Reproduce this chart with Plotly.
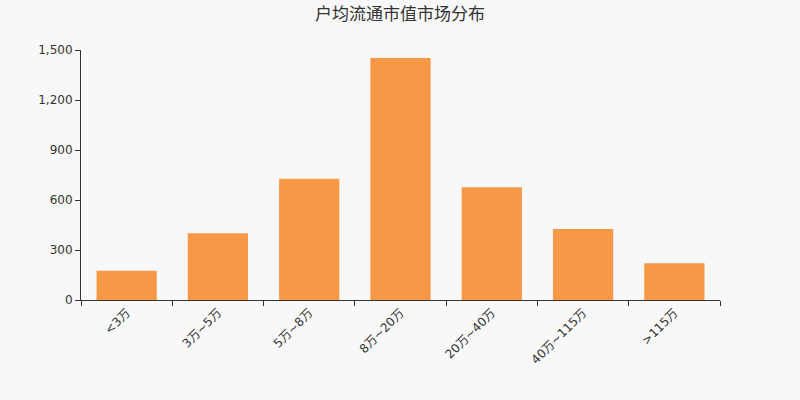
import plotly.graph_objects as go

categories = ['<3万', '3万~5万', '5万~8万', '8万~20万', '20万~40万', '40万~115万', '>115万']
values = [176, 400, 728, 1452, 676, 426, 220]
y_ticks = [0, 300, 600, 900, 1200, 1500]

fig = go.Figure()
fig.add_trace(go.Bar(x=categories, y=values, marker_color='#F79846', marker_line_width=0))

fig.update_layout(
    width=800, height=400,
    paper_bgcolor='#F8F8F8', plot_bgcolor='#F8F8F8',
    margin=dict(l=81, r=80, t=50, b=100),
    bargap=0.34,
    showlegend=False,
    font=dict(family='DejaVu Sans, Noto Sans CJK SC', color='#333333', size=12),
    title=dict(text='户均流通市值市场分布', x=0.5, xanchor='center', yref='container',
               y=0.965, yanchor='middle',
               font=dict(size=17, color='#333333')),
)
fig.update_xaxes(
    type='category', tickson='boundaries', ticks='outside', ticklen=5, tickcolor='#333333',
    showline=True, linecolor='#333333', linewidth=1, tickangle=-45, showgrid=False,
    tickfont=dict(size=12, color='#333333'),
)
fig.update_yaxes(
    range=[0, 1500], tickvals=y_ticks, tickformat=',', ticks='outside', ticklen=5,
    tickcolor='#333333', showline=True, linecolor='#333333', linewidth=1,
    showgrid=False, zeroline=False, tickfont=dict(size=12, color='#333333'),
)

fig.write_html('out.html', config={'displayModeBar': False},
               post_script="document.body.style.margin='0';document.body.style.background='#F8F8F8';")
